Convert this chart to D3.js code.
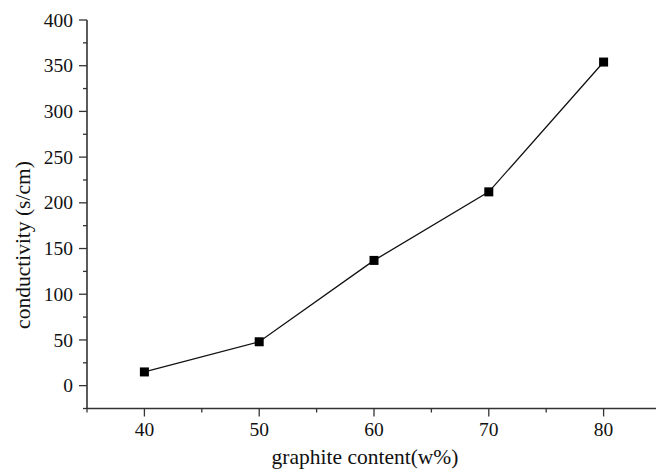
<!DOCTYPE html>
<html>
<head>
<meta charset="utf-8">
<script src="https://cdn.jsdelivr.net/npm/d3@7"></script>
<style>
  html, body { margin: 0; padding: 0; background: #fff; }
  svg { display: block; }
  text { font-family: "Liberation Serif", "Times New Roman", serif; fill: #111; }
</style>
</head>
<body>
<svg id="chart" width="656" height="469"></svg>
<script>
// Conductivity vs graphite content
const graphiteContent = [40, 50, 60, 70, 80];
const conductivity = [15, 48, 137, 212, 354];
const xTicks = [40, 50, 60, 70, 80];
const yTicks = [0, 50, 100, 150, 200, 250, 300, 350, 400];

const W = 656, H = 469;
const svg = d3.select("#chart");

const x = d3.scaleLinear().domain([35, 85]).range([87, 661]);
const y = d3.scaleLinear().domain([-25, 400]).range([408.5, 20]);

const axisColor = "#333";

// Y axis with major and minor ticks
const yAxis = svg.append("g").attr("transform", "translate(87,0)");
yAxis.append("line").attr("x1", 0).attr("x2", 0).attr("y1", y(400)).attr("y2", y(-25))
  .attr("stroke", axisColor).attr("stroke-width", 1.6);
yAxis.selectAll(".ymaj").data(yTicks).join("line")
  .attr("x1", -8).attr("x2", 0).attr("y1", d => y(d)).attr("y2", d => y(d))
  .attr("stroke", axisColor).attr("stroke-width", 1.3);
yAxis.selectAll(".ymin").data(d3.range(-25, 400, 50)).join("line")
  .attr("x1", -4).attr("x2", 0).attr("y1", d => y(d)).attr("y2", d => y(d))
  .attr("stroke", axisColor).attr("stroke-width", 1.3);
yAxis.selectAll("text").data(yTicks).join("text")
  .attr("x", -14).attr("y", d => y(d)).attr("dy", "0.34em")
  .attr("text-anchor", "end").attr("font-size", 19.5).text(d => d);

// X axis with major and minor ticks
const xAxis = svg.append("g").attr("transform", `translate(0,${y(-25)})`);
xAxis.append("line").attr("x1", 87).attr("x2", W).attr("y1", 0).attr("y2", 0)
  .attr("stroke", axisColor).attr("stroke-width", 1.6);
xAxis.selectAll(".xmaj").data(xTicks).join("line")
  .attr("x1", d => x(d)).attr("x2", d => x(d)).attr("y1", 0).attr("y2", 8)
  .attr("stroke", axisColor).attr("stroke-width", 1.3);
xAxis.selectAll(".xmin").data(d3.range(35, 86, 10)).join("line")
  .attr("x1", d => x(d)).attr("x2", d => x(d)).attr("y1", 0).attr("y2", 4)
  .attr("stroke", axisColor).attr("stroke-width", 1.3);
xAxis.selectAll("text").data(xTicks).join("text")
  .attr("x", d => x(d)).attr("y", 27)
  .attr("text-anchor", "middle").attr("font-size", 19.5).text(d => d);

// Axis titles
svg.append("text").attr("x", 365).attr("y", 464)
  .attr("text-anchor", "middle").attr("font-size", 21.5).text("graphite content(w%)");
svg.append("text").attr("transform", "translate(30,245) rotate(-90)")
  .attr("text-anchor", "middle").attr("font-size", 21.5).text("conductivity (s/cm)");

// Data line and square markers
const pts = graphiteContent.map((g, i) => [g, conductivity[i]]);
svg.append("path")
  .attr("d", d3.line().x(d => x(d[0])).y(d => y(d[1]))(pts))
  .attr("fill", "none").attr("stroke", "#111").attr("stroke-width", 1.3);
svg.selectAll(".marker").data(pts).join("rect")
  .attr("x", d => x(d[0]) - 4.5).attr("y", d => y(d[1]) - 4.5)
  .attr("width", 9).attr("height", 9).attr("fill", "#000");
</script>
</body>
</html>
